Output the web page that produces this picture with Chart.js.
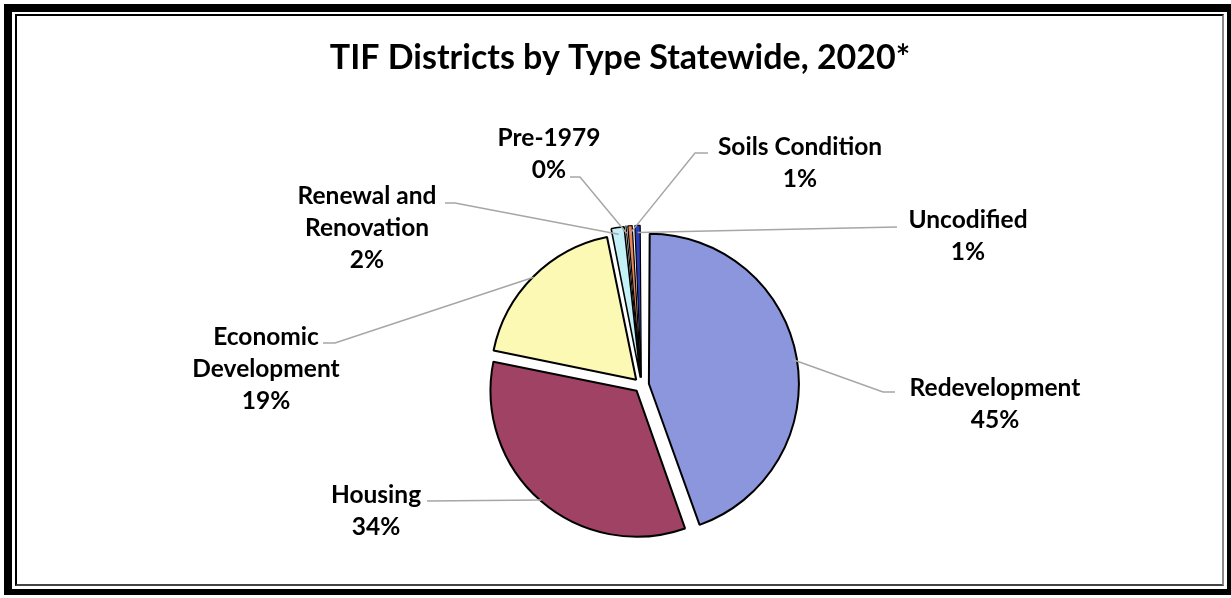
<!DOCTYPE html>
<html>
<head>
<meta charset="utf-8">
<script src="https://cdn.jsdelivr.net/npm/chart.js@4"></script>
<style>
  html,body{margin:0;padding:0;background:#fff;overflow:hidden;}
  #wrap{position:relative;width:1231px;height:598px;}
  #chart{position:absolute;left:0;top:0;}
  .frame{position:absolute;box-sizing:border-box;pointer-events:none;}
  #outer{left:4px;top:4px;width:1231px;height:591px;border:8px solid #000;border-bottom-width:6px;}
  #inner{left:15px;top:14px;width:1209px;height:572px;border:2px solid #000;border-right-color:#888;border-bottom-color:#444;}
</style>
</head>
<body>
<div id="wrap">
  <canvas id="chart" width="1231" height="598"></canvas>
  <div class="frame" id="outer"></div>
  <div class="frame" id="inner"></div>
</div>
<script>
const TITLE = "TIF Districts by Type Statewide, 2020*";
const categories = ["Redevelopment","Housing","Economic Development","Renewal and Renovation","Pre-1979","Soils Condition","Uncodified"];
const shares = [44.6, 33.6, 18.6, 1.6, 0.1, 0.7, 0.8];
const pctLabels = ["45%","34%","19%","2%","0%","1%","1%"];
const colors = ["#8c96dc","#a04264","#fcf9b4","#c4f0f8","#7a9a3a","#e8865a","#2c3cb6"];

// label text lines + placement (centre of first line) and leader-line start
const labelLines = [
  ["Redevelopment"],["Housing"],["Economic","Development"],["Renewal and","Renovation"],
  ["Pre-1979"],["Soils Condition"],["Uncodified"]
];
const labelPos = [[995,388],[376,495],[266,337],[367,196],[549,138],[800,147],[968,220]];
const leaderFrom = [[[895,392],[883,392]],[[427,501]],[[323,343],[335,343]],[[445,203],[455,203]],[[570,177],[580,177]],[[708,153],[695,153]],[[897,227]]];

const EXPLODE = 30; // chart.js moves each arc by offset/4

function qs(id){ return document.getElementById(id); }

const labelPlugin = {
  id:"pieLabels",
  afterDatasetsDraw(c){
    const ctx = c.ctx;
    const meta = c.getDatasetMeta(0);
    ctx.save();
    // title
    ctx.fillStyle = "#000";
    ctx.font = "bold 34px Lato";
    ctx.textAlign = "center";
    ctx.textBaseline = "middle";
    ctx.fillText(TITLE, 620, 58);

    meta.data.forEach((arc,i)=>{
      const p = arc.getProps(["x","y","startAngle","endAngle","outerRadius"],true);
      const mid = (p.startAngle+p.endAngle)/2;
      const r = p.outerRadius + EXPLODE/4;
      const ex = p.x + Math.cos(mid)*r, ey = p.y + Math.sin(mid)*r;
      ctx.strokeStyle = "#a6a6a6";
      ctx.lineWidth = 1.5;
      ctx.beginPath();
      const pts = leaderFrom[i];
      ctx.moveTo(pts[0][0],pts[0][1]);
      pts.slice(1).forEach(q=>ctx.lineTo(q[0],q[1]));
      ctx.lineTo(ex,ey);
      ctx.stroke();

      const lines = labelLines[i].concat([pctLabels[i]]);
      ctx.fillStyle = "#000";
      ctx.font = "bold 24.5px Lato";
      lines.forEach((t,k)=>ctx.fillText(t, labelPos[i][0], labelPos[i][1] + k*32));
    });
    ctx.restore();
  }
};

new Chart(qs("chart"),{
  type:"pie",
  data:{
    labels:categories,
    datasets:[{
      data:shares,
      backgroundColor:colors,
      borderColor:"#000",
      borderWidth:[2,2,2,1.6,1.2,1.2,1.2],
      offset:EXPLODE,
      hoverOffset:0
    }]
  },
  options:{
    responsive:false,
    animation:false,
    radius:145,
    layout:{padding:{left:341.5,right:289.5,top:200,bottom:28}},
    plugins:{legend:{display:false},tooltip:{enabled:false},title:{display:false}}
  },
  plugins:[labelPlugin]
});
</script>
</body>
</html>
